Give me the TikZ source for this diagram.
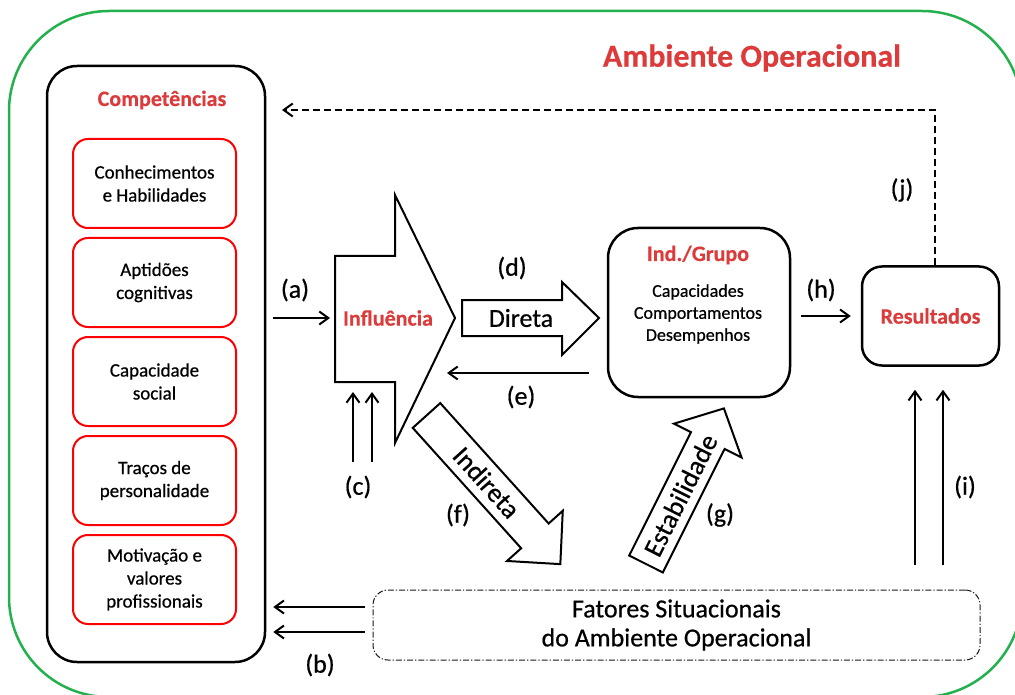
\documentclass[tikz,border=0pt]{standalone}
\usepackage{fontspec}
\setmainfont{Carlito}[UprightFeatures={FakeBold=0.6},BoldFeatures={FakeBold=0.4}]
\usepackage{tikz}
\usetikzlibrary{arrows.meta,calc}
\definecolor{envgreen}{HTML}{22B14C}
\definecolor{hdred}{HTML}{DC3B3B}
\definecolor{boxred}{HTML}{FF0000}
\newcommand{\fs}[2]{\fontsize{#1}{#2}\selectfont}

\begin{document}
\begin{tikzpicture}[x=1pt,y=-1pt,
  hdr/.style={font=\fs{22}{26}\bfseries,text=hdred},
  lbl/.style={font=\fs{26}{30}},
  flowarr/.style={line width=2pt,-{Straight Barb[length=9pt,width=13pt]}},
  bigarrow/.style={draw,line width=2pt,fill=white,line join=miter},
  compbox/.style={draw=boxred,line width=2pt,rounded corners=15pt,minimum width=163pt,minimum height=89pt,align=center,font=\fs{19}{23}},
]
\useasboundingbox (0,0) rectangle (1015,695);
\draw[envgreen,line width=2.5pt,rounded corners=100pt] (9,11) rectangle (1022,697);
\node[font=\fs{32}{36}\bfseries,text=hdred] (title) at (752,58) {Ambiente Operacional};

% competencias
\node[draw,line width=2.5pt,rounded corners=30pt,minimum width=218pt,minimum height=596pt] (comp) at (156,364) {};
\node[hdr] (comphdr) at (162,100) {Competências};
\foreach \t [count=\i] in {{Conhecimentos\\e Habilidades},{Aptidões\\cognitivas},{Capacidade\\social},{Traços de\\personalidade},{Motivação e\\valores\\profissionais}}
  \node[compbox] (comp\i) at (154.5,84.5+99*\i) {\t};

% influencia
\draw[bigarrow] (335,256) -- (395,256) -- (395,195) -- (455,318) -- (395,443) -- (395,382) -- (335,382) -- cycle;
\node[hdr] (infl) at (388,318) {Influência};
\coordinate (infl-w) at (335,318);
\coordinate (infl-s) at (362.5,382);

% direta
\draw[bigarrow] (462,300) -- (562,300) -- (562,282) -- (599,318) -- (562,355) -- (562,336) -- (462,336) -- cycle;
\node[font=\fs{26}{30}] (dir) at (521,318) {Direta};

% ind./grupo and resultados
\node[draw,line width=2.5pt,rounded corners=30pt,minimum width=182pt,minimum height=169pt] (grp) at (699,312.5) {};
\node[hdr] (grphdr) at (698,255) {Ind./Grupo};
\node[align=center,font=\fs{18}{22}] (grptxt) at (698,314) {Capacidades\\Comportamentos\\Desempenhos};
\node[draw,line width=2.5pt,rounded corners=20pt,minimum width=137pt,minimum height=99pt,hdr] (res) at (930.5,316) {Resultados};

% fatores situacionais
\node[draw=black!90,line width=1pt,dash pattern=on 6pt off 2pt on 1.2pt off 2pt,rounded corners=15pt,minimum width=607pt,minimum height=70pt,align=center,font=\fs{26}{29}] (fat) at (676.5,625) {Fatores Situacionais\\do Ambiente Operacional};

% indireta and estabilidade
\begin{scope}[shift={(426.5,415.5)},rotate=-48]
  \draw[bigarrow] (0,-18.5) -- (162,-18.5) -- (162,-37.5) -- (200,0) -- (162,37.5) -- (162,18.5) -- (0,18.5) -- cycle;
  \node[font=\fs{27}{30},rotate=-48] (ind) at (90,0) {Indireta};
\end{scope}
\begin{scope}[shift={(646,564)},rotate=63.4]
  \draw[bigarrow] (0,-18.8) -- (138,-18.8) -- (138,-37.8) -- (174,0) -- (138,37.8) -- (138,18.8) -- (0,18.8) -- cycle;
  \node[font=\fs{27}{30},rotate=63.4] (estab) at (77,0) {Estabilidade};
\end{scope}

% connectors
\draw[flowarr,shorten <=7pt,shorten >=5pt] (comp.east |- infl-w) -- (infl-w);
\coordinate (e-end) at (447,373);
\draw[flowarr,shorten <=18pt] (grp.west |- e-end) -- (e-end);
\draw[flowarr,shorten <=10pt,shorten >=10pt] (grp.east |- res) -- (res.west);
\coordinate (j-end) at (282,110);
\draw[flowarr,dash pattern=on 7pt off 4pt] ([xshift=4pt]res.north) |- (j-end);
\foreach \dx in {-15.5,12.5}
  \draw[flowarr,shorten <=25pt,shorten >=23pt] ([xshift=\dx pt]res.south |- fat.north) -- ([xshift=\dx pt]res.south);
\foreach \dx in {-9.5,9.5}
  \draw[flowarr,shorten >=10pt] ([shift={(\dx,80)}]infl-s) -- ([xshift=\dx pt]infl-s);
\foreach \dy in {-18,7}{
  \coordinate (bs) at ([shift={(0,\dy)}]fat.west);
  \draw[flowarr,shorten <=8pt,shorten >=7pt] (bs) -- (comp.east |- bs);
}

% labels
\node[lbl] (la) at (295,290) {(a)};
\node[lbl] (lb) at (320,665) {(b)};
\node[lbl] (lc) at (358,487) {(c)};
\node[lbl] (ld) at (512,268) {(d)};
\node[lbl] (le) at (521,397) {(e)};
\node[lbl] (lf) at (458,515) {(f)};
\node[lbl] (lg) at (720,515) {(g)};
\node[lbl] (lh) at (821,290) {(h)};
\node[lbl] (li) at (965,487) {(i)};
\node[lbl] (lj) at (902,190) {(j)};
\end{tikzpicture}
\end{document}
